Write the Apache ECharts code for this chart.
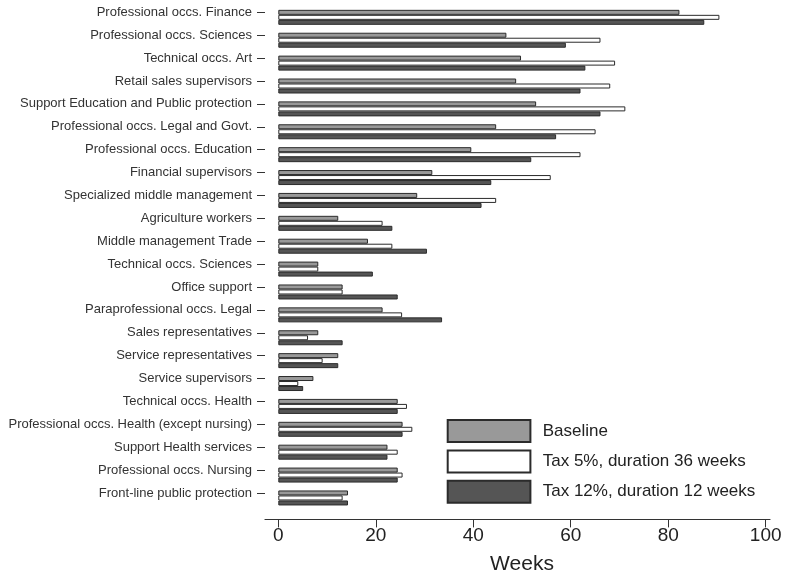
<!DOCTYPE html>
<html>
<head>
<meta charset="utf-8">
<script src="https://cdn.jsdelivr.net/npm/echarts@6/dist/echarts.min.js"></script>
<style>
  html, body { margin: 0; padding: 0; background: #fff; }
  #chart { width: 791px; height: 578px; }
</style>
</head>
<body>
<div id="chart"></div>
<script>
// Occupations, top to bottom
const occupations = [
  'Professional occs. Finance',
  'Professional occs. Sciences',
  'Technical occs. Art',
  'Retail sales supervisors',
  'Support Education and Public protection',
  'Professional occs. Legal and Govt.',
  'Professional occs. Education',
  'Financial supervisors',
  'Specialized middle management',
  'Agriculture workers',
  'Middle management Trade',
  'Technical occs. Sciences',
  'Office support',
  'Paraprofessional occs. Legal',
  'Sales representatives',
  'Service representatives',
  'Service supervisors',
  'Technical occs. Health',
  'Professional occs. Health (except nursing)',
  'Support Health services',
  'Professional occs. Nursing',
  'Front-line public protection'
];

const seriesNames = ['Baseline', 'Tax 5%, duration 36 weeks', 'Tax 12%, duration 12 weeks'];

// Duration in weeks for each scenario
const baseline = [82.3, 46.8, 49.8, 48.8, 52.9, 44.7, 39.6, 31.6, 28.5, 12.3, 18.4, 8.2, 13.2, 21.4, 8.2, 12.3, 7.2, 24.5, 25.5, 22.4, 24.5, 14.3];
const tax5 = [90.5, 66.1, 69.1, 68.1, 71.2, 65.1, 62.0, 55.9, 44.7, 21.4, 23.4, 8.2, 13.2, 25.4, 6.1, 9.1, 4.1, 26.4, 27.5, 24.5, 25.5, 13.2];
const tax12 = [87.4, 59.0, 63.0, 62.0, 66.1, 57.0, 51.9, 43.7, 41.7, 23.4, 30.5, 19.4, 24.5, 33.6, 13.2, 12.3, 5.1, 24.5, 25.5, 22.4, 24.5, 14.3];

const xTicks = [0, 20, 40, 60, 80, 100];

const FONT = '"Liberation Sans", Arial, Helvetica, sans-serif';
const fills = ['#999999', '#ffffff', '#555555'];
const values = [baseline, tax5, tax12];

const chart = echarts.init(document.getElementById('chart'), null, { renderer: 'canvas' });

const option = {
  backgroundColor: '#ffffff',
  animation: false,
  textStyle: { fontFamily: FONT },
  grid: [
    // plotting area for the bars
    { left: 278.3, right: 25.3, top: 5.9, bottom: 68.6, outerBoundsMode: 'none', containLabel: false },
    // frame carrying the occupation labels and the bottom axis line
    { left: 265, right: 21, top: 0.9, bottom: 73.6, outerBoundsMode: 'none', containLabel: false }
  ],
  xAxis: [
    {
      gridIndex: 0,
      type: 'value',
      min: xTicks[0],
      max: xTicks[xTicks.length - 1],
      interval: 20,
      offset: 10,
      name: 'Weeks',
      nameLocation: 'middle',
      nameGap: 34,
      nameTextStyle: { fontSize: 21, color: '#222', fontFamily: FONT },
      axisLine: { show: false },
      axisTick: { show: true, length: 8, lineStyle: { color: '#333', width: 1 } },
      axisLabel: { fontSize: 19, color: '#222', margin: 7, fontFamily: FONT },
      splitLine: { show: false }
    },
    {
      gridIndex: 1,
      type: 'value',
      min: 0,
      max: 1,
      offset: 15,
      axisLine: { show: true, lineStyle: { color: '#333', width: 1.2 } },
      axisTick: { show: false },
      axisLabel: { show: false },
      splitLine: { show: false }
    }
  ],
  yAxis: [
    {
      gridIndex: 0,
      type: 'category',
      data: occupations,
      inverse: true,
      axisLine: { show: false },
      axisTick: { show: false },
      axisLabel: { show: false },
      splitLine: { show: false }
    },
    {
      gridIndex: 1,
      type: 'category',
      data: occupations,
      inverse: true,
      axisLine: { show: false },
      axisTick: { show: true, alignWithLabel: true, length: 8, lineStyle: { color: '#333', width: 1 } },
      axisLabel: { show: true, fontSize: 13, color: '#333', margin: 13, fontFamily: FONT, interval: 0 },
      splitLine: { show: false }
    }
  ],
  legend: {
    orient: 'vertical',
    left: 446.7,
    top: 419,
    padding: 0,
    itemWidth: 82.7,
    itemHeight: 22,
    itemGap: 6.4,
    icon: 'rect',
    data: seriesNames,
    textStyle: { fontSize: 17, color: '#222', fontFamily: FONT, padding: [0, 0, 0, 7.3] }
  },
  series: seriesNames.map((name, i) => ({
    name: name,
    type: 'bar',
    xAxisIndex: 0,
    yAxisIndex: 0,
    data: values[i],
    barWidth: 5,
    barGap: '0%',
    itemStyle: { color: fills[i], borderColor: '#2b2b2b', borderWidth: 1 }
  }))
};

chart.setOption(option);
</script>
</body>
</html>
